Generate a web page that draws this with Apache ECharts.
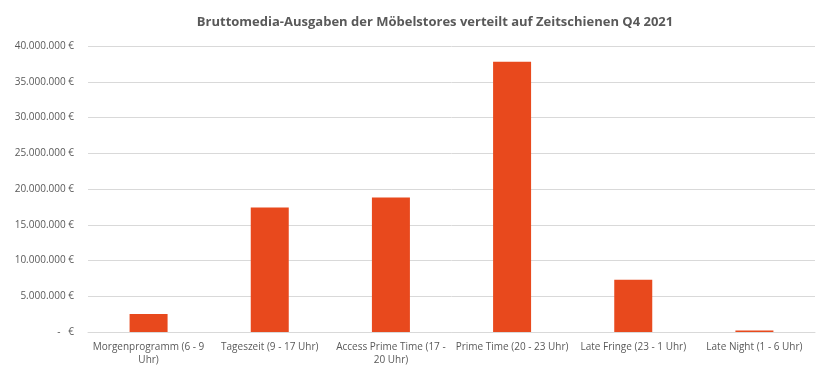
<!DOCTYPE html>
<html><head><meta charset="utf-8">
<script src="https://cdn.jsdelivr.net/npm/echarts@6/dist/echarts.min.js"></script>
<style>html,body{margin:0;padding:0;background:#fff}#c{width:832px;height:384px}</style>
</head><body><div id="c"></div>
<script>
const categories = ["Morgenprogramm (6 - 9 Uhr)","Tageszeit (9 - 17 Uhr)","Access Prime Time (17 - 20 Uhr)","Prime Time (20 - 23 Uhr)","Late Fringe (23 - 1 Uhr)","Late Night (1 - 6 Uhr)"];
const tickLabels = ["Morgenprogramm (6 - 9\nUhr)","Tageszeit (9 - 17 Uhr)","Access Prime Time (17 -\n20 Uhr)","Prime Time (20 - 23 Uhr)","Late Fringe (23 - 1 Uhr)","Late Night (1 - 6 Uhr)"];
const values = [2520000, 17400000, 18800000, 37800000, 7300000, 200000];
const title = "Bruttomedia-Ausgaben der Möbelstores verteilt auf Zeitschienen Q4 2021";

const fmt = v => v === 0 ? "-   €" : v.toString().replace(/\B(?=(\d{3})+(?!\d))/g, ".") + " €";
const chart = echarts.init(document.getElementById('c'));
chart.setOption({
  animation:false,
  title:{text:title,left:430,textAlign:'center',top:11,textStyle:{fontFamily:'Open Sans',fontSize:13,fontWeight:'bold',color:'#595959'}},
  grid:{left:88,right:17,top:46,bottom:52},
  xAxis:{type:'category',data:categories,
    axisLine:{lineStyle:{color:'#d9d9d9'}},axisTick:{show:false},
    axisLabel:{interval:0,color:'#595959',fontFamily:'Open Sans',fontSize:10,lineHeight:13,margin:9,
      formatter:(v,i)=>tickLabels[i]}},
  yAxis:{type:'value',min:0,max:40000000,interval:5000000,
    axisLine:{show:false},axisTick:{show:false},
    splitLine:{lineStyle:{color:'#d9d9d9'}},
    axisLabel:{color:'#595959',fontFamily:'Open Sans',fontSize:10,margin:14,formatter:fmt}},
  series:[{type:'bar',data:values,barWidth:38,itemStyle:{color:'#E8491D'}}]
});
</script></body></html>
